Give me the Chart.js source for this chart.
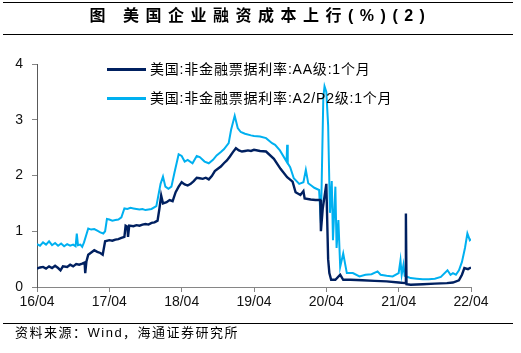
<!DOCTYPE html>
<html>
<head>
<meta charset="utf-8">
<script src="https://cdn.jsdelivr.net/npm/chart.js@4.4.1/dist/chart.umd.min.js"></script>
<style>
  html, body { margin:0; padding:0; background:#fff; }
  #wrap { position:relative; width:521px; height:353px; overflow:hidden; font-family:"Liberation Sans","Noto Sans CJK SC",sans-serif; }
  #c { position:absolute; left:0; top:0; }
  .hline { position:absolute; left:3px; width:510px; height:1px; background:#000; }
  #title { position:absolute; left:0; top:5px; width:521px; text-align:center; font-size:16px; font-weight:bold; letter-spacing:6.5px; color:#000; line-height:22px; white-space:nowrap; }
  #source { position:absolute; left:15px; top:324px; font-size:13px; letter-spacing:1.5px; color:#000; line-height:18px; white-space:nowrap; }
  .leg { position:absolute; left:107px; height:20px; font-size:14px; color:#000; white-space:nowrap; letter-spacing:0.8px; }
  .leg .ln { position:absolute; left:0; top:9px; width:39px; height:2.5px; }
  .leg .tx { position:absolute; left:43px; top:0; line-height:20px; }
</style>
</head>
<body>
<div id="wrap">
  <canvas id="c" width="521" height="353"></canvas>
  <div class="hline" style="top:2px"></div>
  <div id="title">图 美国企业融资成本上行(%)(2)</div>
  <div class="hline" style="top:34px"></div>
  <div class="leg" style="top:59px"><div class="ln" style="background:#002060"></div><div class="tx">美国:非金融票据利率:AA级:1个月</div></div>
  <div class="leg" style="top:88px"><div class="ln" style="background:#00B0F0"></div><div class="tx">美国:非金融票据利率:A2/P2级:1个月</div></div>
  <div class="hline" style="top:323px"></div>
  <div id="source">资料来源：Wind，海通证券研究所</div>
</div>
<script>
// x values: months since 2016-04
const xTickLabels = ['16/04','17/04','18/04','19/04','20/04','21/04','22/04'];
const yTickValues = [0,1,2,3,4];

const aaMonths = [0,0.5,1,1.5,2,2.5,3,3.5,3.9,4.3,5,5.5,6,6.5,7,7.5,7.9,8.0,8.2,8.5,9,9.5,10,10.5,10.9,11.3,12,12.5,13,13.5,14,14.5,14.7,15.0,15.1,15.3,16,16.5,17,17.5,18,18.5,19,19.5,20,20.3,20.6,20.9,21.5,22,22.5,23,23.5,24,24.5,25,25.5,26,26.5,27,27.5,28,28.5,29,29.5,30,30.5,31,31.5,32,32.5,33,33.5,34,34.5,35,35.5,36,37,38,39.3,40.4,41.5,42.4,42.9,43.7,44.2,44.4,45.4,46.2,47.0,47.1,47.4,48.0,48.3,48.5,48.8,49.5,50.3,50.8,52,54,56,58,60,61.1,61.2,61.3,62,64,66,68,69,70,70.5,70.9,71.5,72];
const aaRates  = [0.33,0.35,0.36,0.33,0.37,0.34,0.38,0.34,0.30,0.37,0.36,0.40,0.37,0.41,0.40,0.42,0.44,0.25,0.46,0.58,0.62,0.66,0.63,0.61,0.58,0.82,0.84,0.83,0.85,0.86,0.88,0.90,1.10,1.08,0.90,1.10,1.09,1.11,1.10,1.12,1.13,1.12,1.15,1.16,1.19,1.40,1.64,1.50,1.52,1.56,1.54,1.70,1.80,1.88,1.84,1.82,1.85,1.90,1.96,1.95,1.94,1.96,1.93,1.99,2.08,2.12,2.16,2.22,2.27,2.34,2.42,2.49,2.45,2.43,2.44,2.45,2.44,2.46,2.44,2.43,2.30,2.12,1.97,1.89,1.70,1.65,1.72,1.59,1.57,1.56,1.56,1.00,1.40,1.85,0.50,0.25,0.13,0.13,0.22,0.13,0.13,0.12,0.11,0.10,0.08,0.07,1.32,0.05,0.04,0.05,0.06,0.07,0.08,0.12,0.22,0.34,0.32,0.35];

const a2Months = [0,0.5,1,1.5,2,2.5,3,3.5,4,4.5,5,5.5,6,6.4,6.6,6.8,7.2,7.5,7.8,8.5,9,9.5,10,10.5,11,11.3,11.6,12,12.5,13,13.5,14,14.5,15,15.5,16,16.5,17,17.5,18,18.5,19,19.8,20.5,20.9,21.3,21.8,22.3,22.8,23.5,24,24.5,25,25.8,26.5,27,27.8,28.5,29.2,29.8,30.5,31,31.8,32.2,32.8,33.3,33.8,34.5,35.5,36,37,38,39,39.5,40.3,41.4,41.5,41.6,42,42.6,43.5,44.2,44.6,45.0,45.5,46.0,46.8,47.1,47.5,47.7,48.0,48.3,48.6,48.9,49.1,49.5,49.7,50.0,50.3,50.8,51.4,52.4,53.5,54.5,55.5,56.5,57,58,59,60,60.3,60.5,60.8,61.0,61.5,62,63,64,65,66,67,68.1,68.6,69,69.5,70,70.5,71,71.4,71.8,72];
const a2Rates  = [0.77,0.74,0.80,0.76,0.82,0.75,0.79,0.74,0.78,0.73,0.77,0.74,0.76,0.73,0.96,0.75,0.76,0.72,0.80,1.05,1.03,1.04,1.01,0.98,0.96,1.00,1.22,1.21,1.19,1.20,1.21,1.25,1.41,1.40,1.42,1.41,1.40,1.39,1.40,1.38,1.39,1.40,1.45,1.85,1.98,1.80,1.76,1.80,2.05,2.38,2.35,2.25,2.28,2.22,2.35,2.33,2.25,2.22,2.28,2.36,2.42,2.47,2.58,2.82,3.07,2.85,2.78,2.75,2.72,2.71,2.70,2.67,2.58,2.55,2.45,2.25,2.55,2.22,2.15,1.95,1.85,1.88,2.10,1.86,1.82,1.78,1.74,1.15,3.40,3.60,3.50,2.90,1.33,1.90,0.84,1.80,0.70,1.20,0.36,0.60,0.25,0.25,0.19,0.22,0.23,0.28,0.22,0.20,0.19,0.25,0.48,0.22,0.40,0.20,0.18,0.16,0.15,0.14,0.14,0.15,0.18,0.30,0.22,0.25,0.22,0.30,0.45,0.70,0.96,0.84,0.86];

const toPts = (xs, ys) => xs.map((x, i) => ({ x: x, y: ys[i] }));

new Chart(document.getElementById('c'), {
  type: 'line',
  data: {
    datasets: [
      { label: '美国:非金融票据利率:AA级:1个月', data: toPts(aaMonths, aaRates), borderColor: '#002060', borderWidth: 2.4, pointRadius: 0, tension: 0, fill: false },
      { label: '美国:非金融票据利率:A2/P2级:1个月', data: toPts(a2Months, a2Rates), borderColor: '#00B0F0', borderWidth: 2, pointRadius: 0, tension: 0, fill: false }
    ]
  },
  options: {
    responsive: false,
    animation: false,
    layout: { padding: { top: 64, right: 50, bottom: 0, left: 0 } },
    plugins: { legend: { display: false }, tooltip: { enabled: false } },
    scales: {
      x: {
        type: 'linear', min: 0, max: 72,
        afterFit: s => { s.height = 66; },
        afterBuildTicks: s => { s.ticks = xTickLabels.map((_, i) => ({ value: i * 12 })); },
        ticks: { callback: v => xTickLabels[Math.round(v / 12)], color: '#111', font: { family: 'Liberation Sans', size: 14 }, padding: 2, maxRotation: 0, autoSkip: false },
        grid: { drawOnChartArea: false, drawTicks: true, tickLength: 5, color: '#868686' },
        border: { display: true, color: '#868686', width: 1 }
      },
      y: {
        type: 'linear', min: 0, max: 4,
        afterFit: s => { s.width = 37; },
        afterBuildTicks: s => { s.ticks = yTickValues.map(v => ({ value: v })); },
        ticks: { color: '#111', font: { family: 'Liberation Sans', size: 14 }, padding: 9 },
        grid: { drawOnChartArea: false, drawTicks: true, tickLength: 5, color: '#868686' },
        border: { display: true, color: '#595959', width: 1 }
      }
    }
  }
});
</script>
</body>
</html>
